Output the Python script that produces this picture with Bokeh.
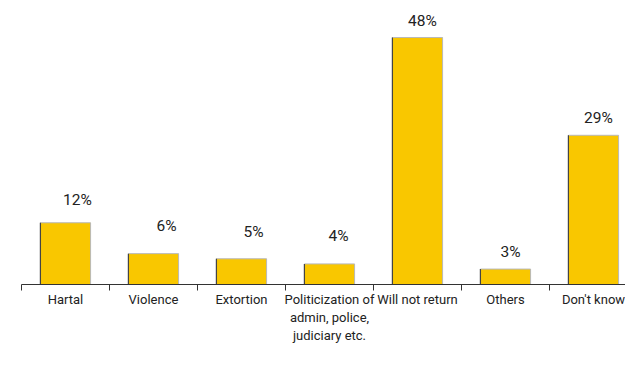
from bokeh.plotting import figure
from bokeh.models import Range1d, FixedTicker, ColumnDataSource
from bokeh.embed import file_html
from bokeh.resources import INLINE
from bokeh.core.properties import value

categories = ["Hartal", "Violence", "Extortion",
              "Politicization of\nadmin, police,\njudiciary etc.",
              "Will not return", "Others", "Don't know"]
percent = [12, 6, 5, 4, 48, 3, 29]
labels = ["12%", "6%", "5%", "4%", "48%", "3%", "29%"]
# hand placement nudges of the value labels (pixels, up/right)
label_dx = [12, 13, 12, 9, 5, 5, 5]
label_dy = [14, 19, 18, 19, 8, 8, 8]

FONT = "Roboto"

n = len(categories)
centers = [i + 0.5 for i in range(n)]
bar_w = 0.57

p = figure(width=625, height=358, output_backend="svg", toolbar_location=None,
           x_range=Range1d(0, 604 / 88), y_range=Range1d(0, 53.64),
           min_border_left=21, min_border_right=0, min_border_top=8,
           min_border_bottom=74, y_axis_location=None)
p.outline_line_color = None
p.xgrid.visible = False
p.ygrid.visible = False
p.background_fill_color = "white"
p.border_fill_color = "white"

src = ColumnDataSource(dict(x=centers, top=percent, lab=labels,
                            dx=label_dx, dy=[-d for d in label_dy],
                            left=[c - bar_w / 2 for c in centers]))

p.vbar(x="x", top="top", width=bar_w, bottom=0, source=src,
       fill_color="#f9c700", line_color="#b8b8b8", line_width=1)
p.segment(x0="left", y0=0, x1="left", y1="top", source=src,
          line_color="#444444", line_width=1.2)

p.text(x="x", y="top", text="lab", x_offset="dx", y_offset="dy", source=src,
       text_align="center", text_baseline="bottom",
       text_font=value(FONT), text_font_size="15.5px", text_color="#222222")

ax = p.xaxis[0]
ax.ticker = FixedTicker(ticks=centers, minor_ticks=list(range(n + 1)))
ax.major_label_overrides = {c: lab for c, lab in zip(centers, categories)}
ax.major_tick_out = 0
ax.major_tick_in = 0
ax.minor_tick_out = 6
ax.minor_tick_in = 0
ax.minor_tick_line_color = "#333333"
ax.axis_line_color = "#333333"
ax.axis_line_width = 1.2
ax.major_label_standoff = 1
ax.major_label_text_font = FONT
ax.major_label_text_font_size = "13px"
ax.major_label_text_color = "#222222"

open("out.html", "w").write(file_html(p, INLINE))
